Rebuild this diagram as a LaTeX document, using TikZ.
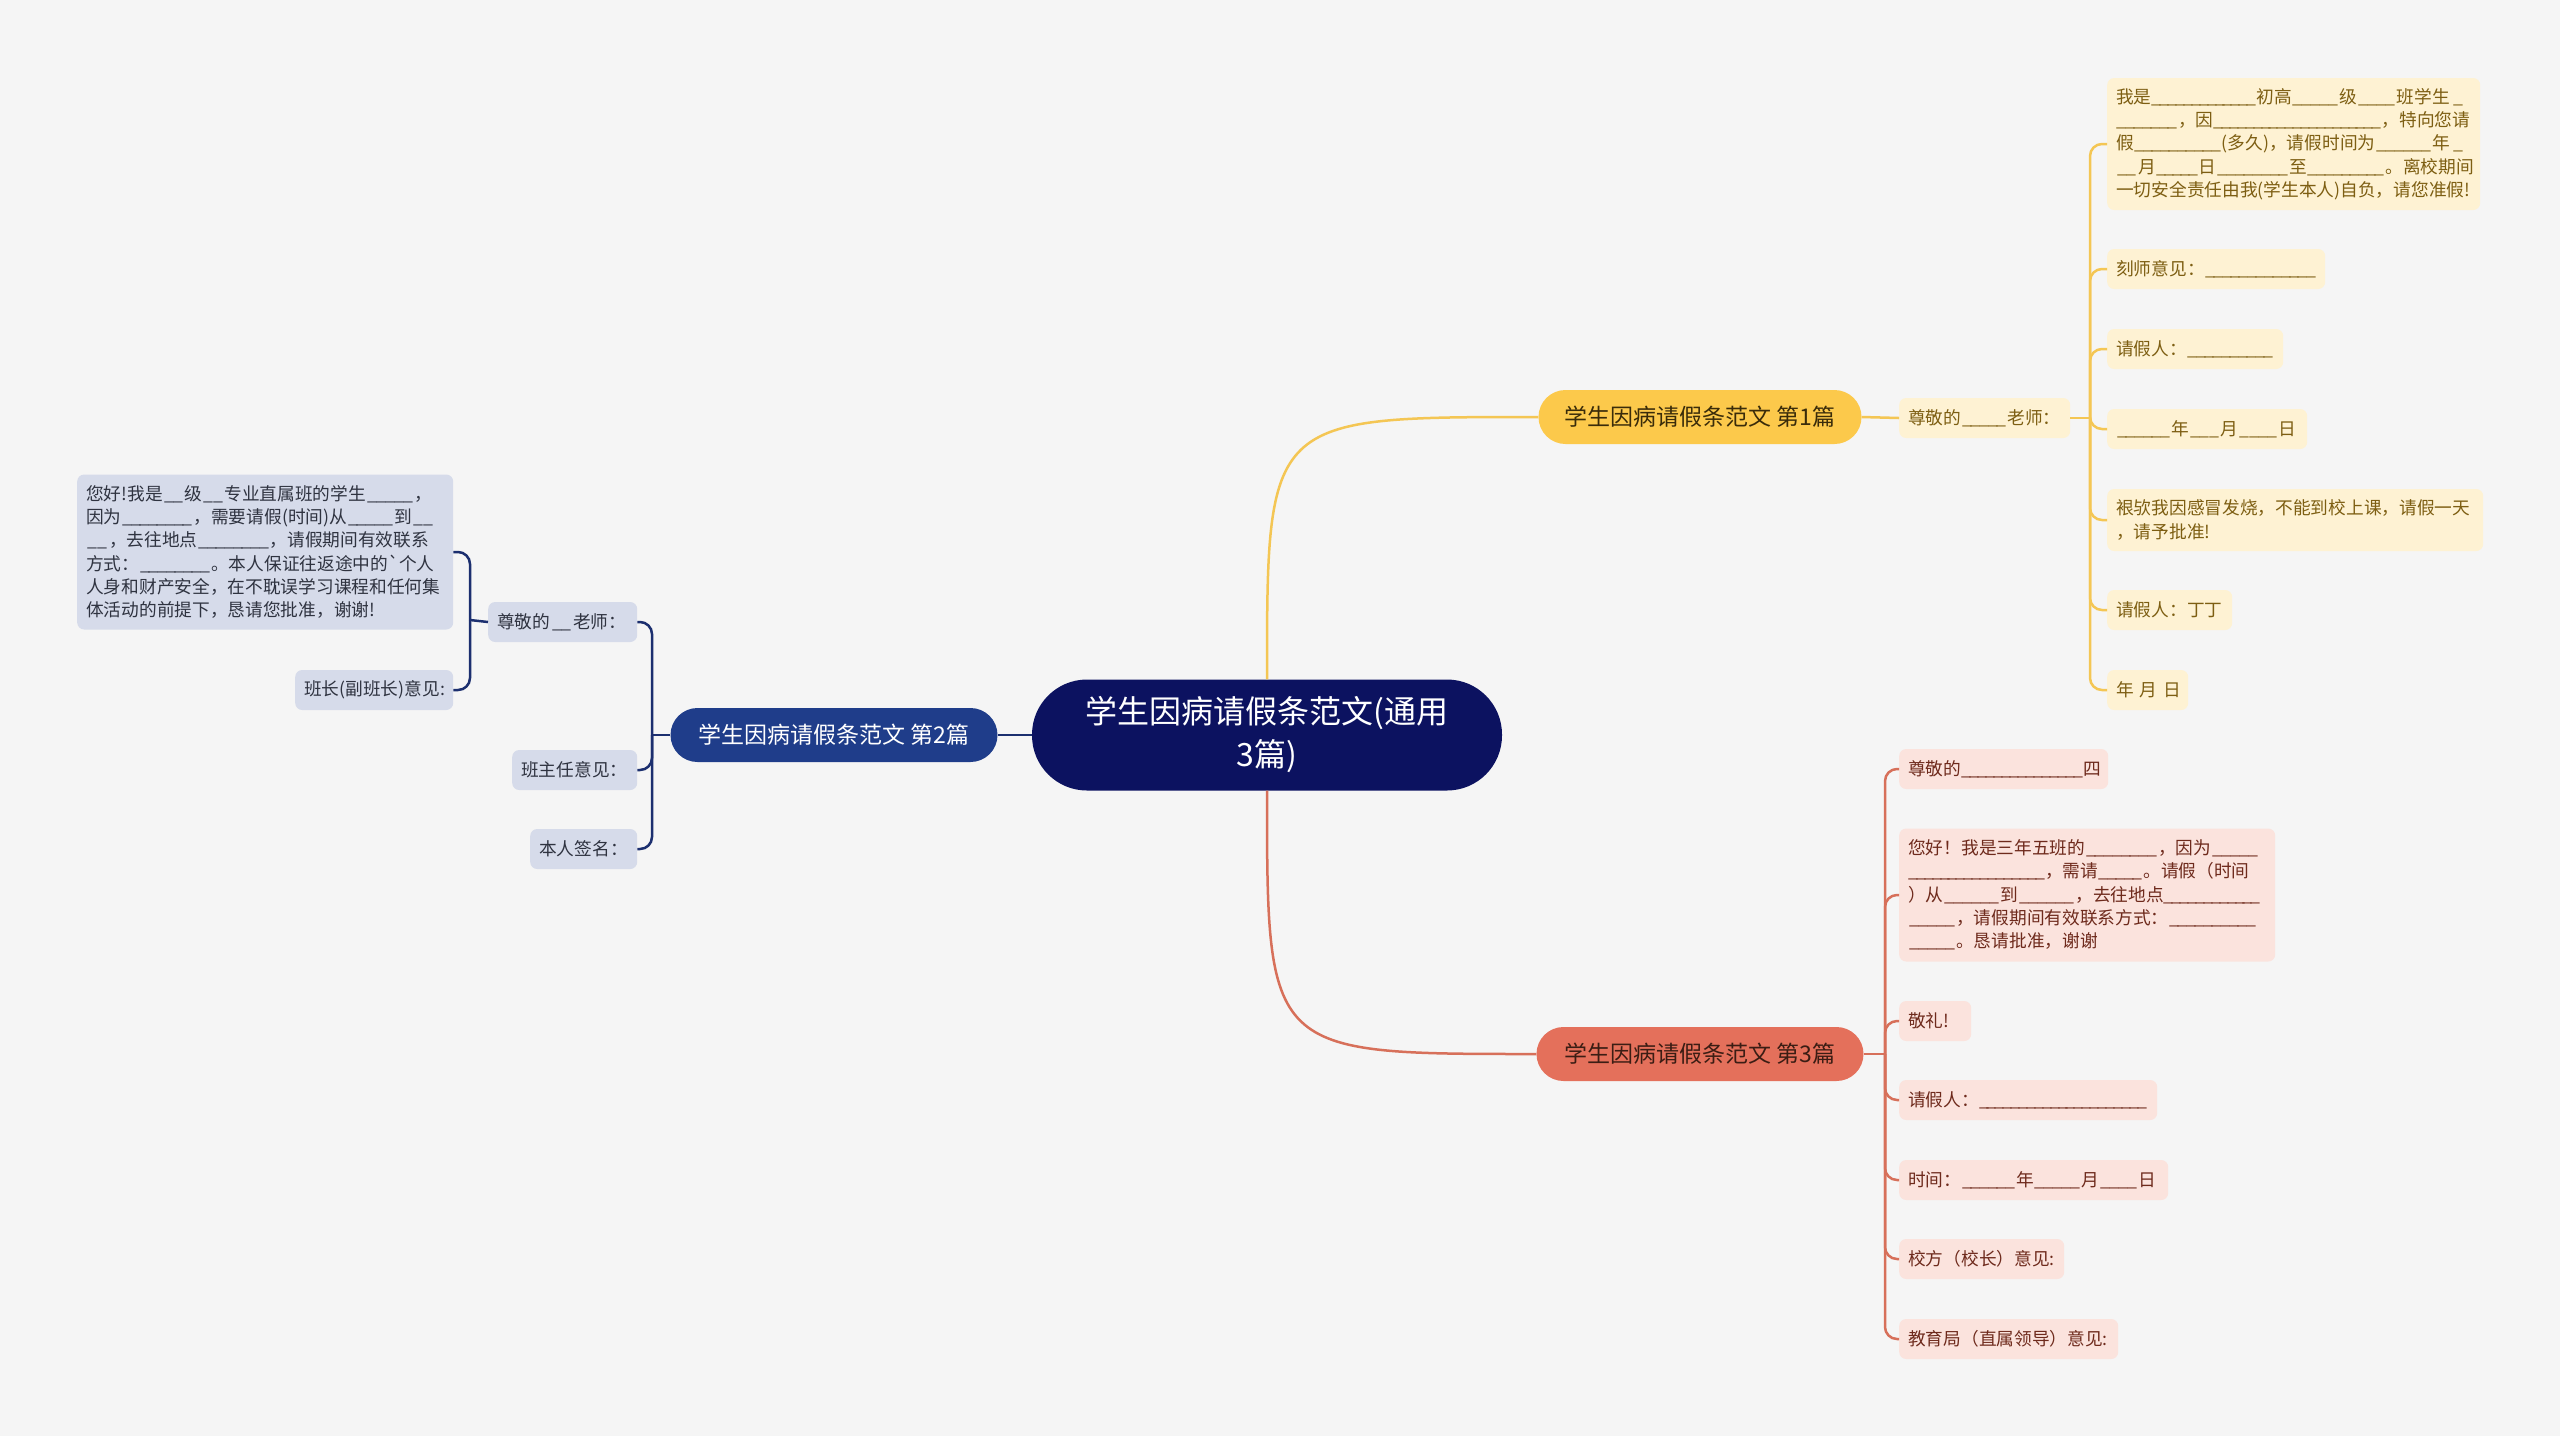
\documentclass[tikz,border=0pt]{standalone}
\usepackage{fontspec}
\setmainfont{Noto Sans CJK SC}
\newcommand\blk[1]{\leavevmode\hbox to #1pt{\xleaders\hbox{\_\kern-2pt}\hfill\kern2pt}}
\definecolor{bgc}{HTML}{F5F5F5}
\definecolor{rootc}{HTML}{0C1260}
\definecolor{ybr}{HTML}{FCC94B}
\definecolor{ybrt}{HTML}{3A2C0A}
\definecolor{yline}{HTML}{F4C654}
\definecolor{yfill}{HTML}{FEF2D3}
\definecolor{ytext}{HTML}{7D5E12}
\definecolor{bbr}{HTML}{1F3D8A}
\definecolor{bline}{HTML}{1C2F6F}
\definecolor{bfill}{HTML}{D6DBEA}
\definecolor{btext}{HTML}{2F3340}
\definecolor{rbr}{HTML}{E4705B}
\definecolor{rbrt}{HTML}{3B1D14}
\definecolor{rline}{HTML}{D7705A}
\definecolor{rfill}{HTML}{FBE3DD}
\definecolor{rtext}{HTML}{6E2A1C}
\begin{document}
\begin{tikzpicture}[x=1pt,y=-1pt,
  rootbox/.style={fill=rootc, text=white, rounded corners=55pt, minimum width=470pt, minimum height=111pt, inner sep=0pt, align=center, font=\fontsize{32}{43}\selectfont},
  branchbox/.style={rounded corners=27pt, minimum height=54pt, inner sep=0pt, font=\fontsize{23}{28}\selectfont},
  leaf/.style={rounded corners=7pt, minimum height=40pt, inner xsep=9pt, inner ysep=0pt, anchor=west, align=left, font=\fontsize{17.7}{23.3}\selectfont},
  yleaf/.style={leaf, fill=yfill, text=ytext},
  rleaf/.style={leaf, fill=rfill, text=rtext},
  bleaf/.style={leaf, fill=bfill, text=btext},
  ylink/.style={draw=yline, line width=2.5pt},
  rlink/.style={draw=rline, line width=2.5pt},
  blink/.style={draw=bline, line width=2.5pt}
]
\fill[bgc] (0,0) rectangle (2560,1436);
\useasboundingbox (0,0) rectangle (2560,1436);

% root and branches
\node[rootbox] (root) at (1267,735) {学生因病请假条范文(通用\\3篇)};
\node[branchbox, fill=ybr, text=ybrt, minimum width=323pt] (b1) at (1700,417) {学生因病请假条范文 第1篇};
\node[branchbox, fill=bbr, text=white, minimum width=327pt] (b2) at (834,735) {学生因病请假条范文 第2篇};
\node[branchbox, fill=rbr, text=rbrt, minimum width=327pt] (b3) at (1700,1054) {学生因病请假条范文 第3篇};

% yellow leaves
\node[yleaf, text width=153pt] (y0) at (1899,418) {尊敬的\blk{46}老师：};
\node[yleaf, text width=355pt, minimum height=132pt] (yp) at (2107,144) {我是\blk{105}初高\blk{47}级\blk{40}班学生\blk{17}\\
\blk{62}，因\blk{168}，特向您请\\
假\blk{88}(多久)，请假时间为\blk{57}年\blk{17}\\
\blk{22}月\blk{43}日\blk{73}至\blk{78}。离校期间\\
一切安全责任由我(学生本人)自负，请您准假!};
\node[yleaf, text width=200pt] (y2) at (2107,269) {刻师意见：\blk{112}};
\node[yleaf, text width=158pt] (y3) at (2107,349) {请假人：\blk{87}};
\node[yleaf, text width=182pt] (y4) at (2107,429) {\blk{55}年\blk{32}月\blk{40}日};
\node[yleaf, text width=358pt, minimum height=62pt] (y5) at (2107,520) {裉欤我因感冒发烧，不能到校上课，请假一天\\，请予批准!};
\node[yleaf, text width=107pt] (y6) at (2107,610) {请假人：丁丁};
\node[yleaf, text width=63pt] (y7) at (2107,690) {年~月~日};

% red leaves
\node[rleaf, text width=191pt] (r1) at (1899,769) {尊敬的\blk{122}四};
\node[rleaf, text width=358pt, minimum height=133pt] (rp) at (1899,895) {您好！我是三年五班的\blk{73}，因为\blk{48}\\
\blk{137}，需请\blk{45}。请假（时间\\
）从\blk{57}到\blk{57}，去往地点\blk{97}\\
\blk{48}，请假期间有效联系方式：\blk{88}\\
\blk{48}。恳请批准，谢谢};
\node[rleaf, text width=54pt] (r3) at (1899,1021) {敬礼!};
\node[rleaf, text width=240pt] (r4) at (1899,1100) {请假人：\blk{168}};
\node[rleaf, text width=251pt] (r5) at (1899,1180) {时间：\blk{55}年\blk{47}月\blk{40}日};
\node[rleaf, text width=147pt] (r6) at (1899,1259) {校方（校长）意见:};
\node[rleaf, text width=201pt] (r7) at (1899,1339) {教育局（直属领导）意见:};

% blue leaves
\node[bleaf, text width=131pt] (bb1) at (488,622) {尊敬的\blk{23}老师：};
\node[bleaf, text width=358pt, minimum height=155pt] (bp) at (77,552) {您好!我是\blk{22}级\blk{22}专业直属班的学生\blk{48}，\\
因为\blk{72}，需要请假(时间)从\blk{47}到\blk{23}\\
\blk{23}，去往地点\blk{72}，请假期间有效联系\\
方式：\blk{72}。本人保证往返途中的\textasciigrave 个人\\
人身和财产安全，在不耽误学习课程和任何集\\
体活动的前提下，恳请您批准，谢谢!};
\node[bleaf, text width=140pt] (bb4) at (295,690) {班长(副班长)意见:};
\node[bleaf, text width=107pt] (bb2) at (512,770) {班主任意见：};
\node[bleaf, text width=89pt] (bb3) at (530,849) {本人签名：};

% main links
\draw[ylink] (root.north) .. controls (root.north |- b1.west) and (root.north |- b1.west) .. (b1.west);
\draw[rlink] (root.south) .. controls (root.south |- b3.west) and (root.south |- b3.west) .. (b3.west);
\draw[blink] (root.west) -- (b2.east);

% yellow bracket
\coordinate (jy) at (2090,418);
\draw[ylink] (b1.east) -- (y0.west);
\draw[ylink] (y0.east) -- (jy);
\foreach \n in {yp,y2,y3,y4,y5,y6,y7} \draw[ylink, rounded corners=12pt] (jy) |- (\n.west);

% red bracket
\coordinate (jr) at (1885,1054);
\draw[rlink] (b3.east) -- (jr);
\foreach \n in {r1,rp,r3,r4,r5,r6,r7} \draw[rlink, rounded corners=12pt] (jr) |- (\n.west);

% blue brackets
\coordinate (jb) at (652,735);
\draw[blink] (b2.west) -- (jb);
\foreach \n in {bb1,bb2,bb3} \draw[blink, rounded corners=12pt] (jb) |- (\n.east);
\coordinate (jb2) at (470,620);
\draw[blink] (bb1.west) -- (jb2);
\foreach \n in {bp,bb4} \draw[blink, rounded corners=12pt] (jb2) |- (\n.east);
\end{tikzpicture}
\end{document}
